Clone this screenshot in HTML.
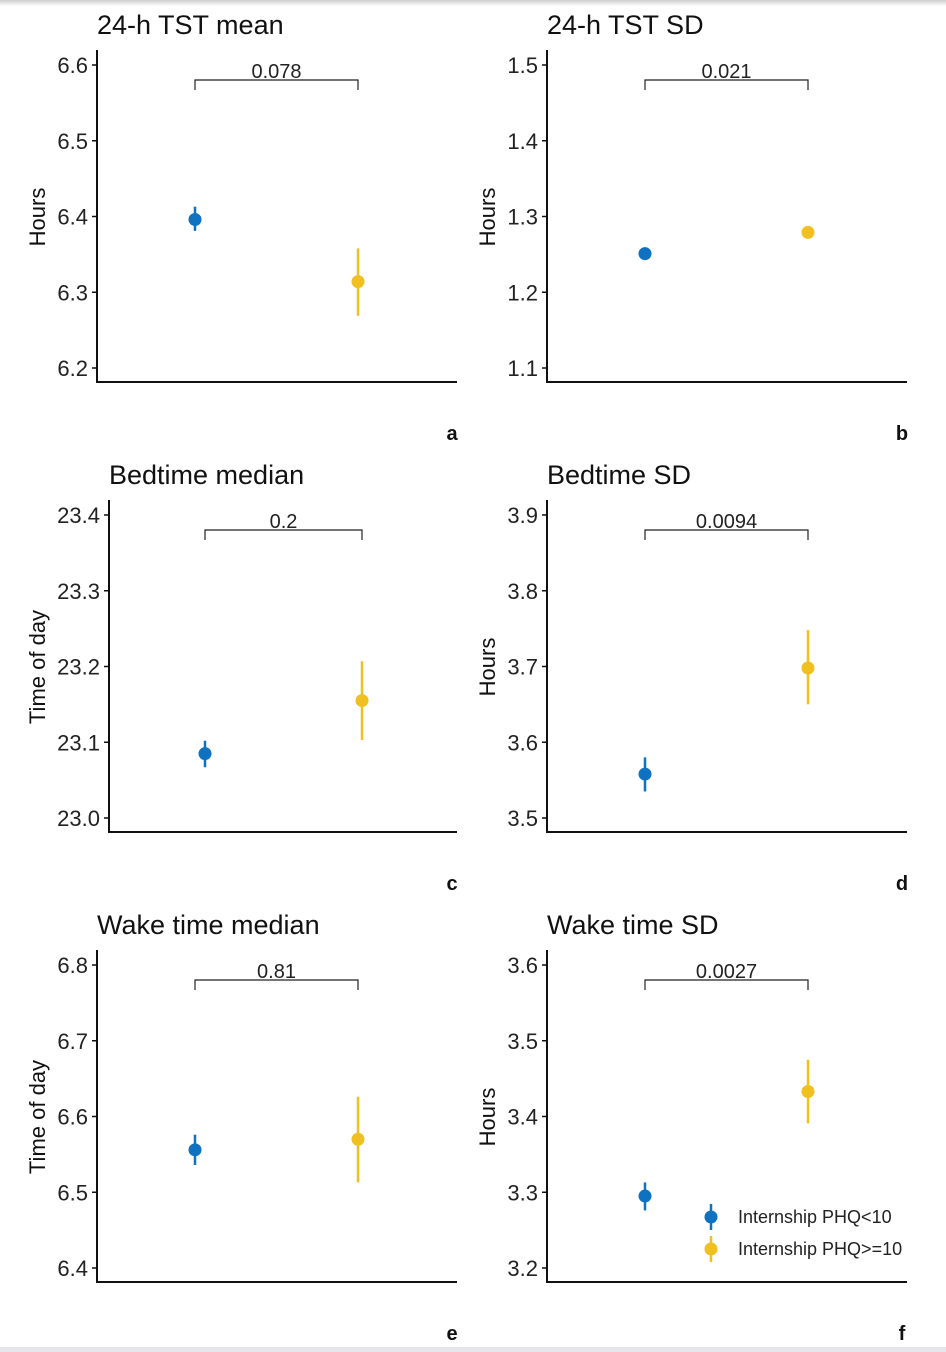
<!DOCTYPE html>
<html><head><meta charset="utf-8"><style>
body{margin:0;background:#fff;}
svg{display:block;font-family:"Liberation Sans",Arial,sans-serif;}
</style></head><body>
<svg id="fig" width="946" height="1352" viewBox="0 0 946 1352">
<defs><linearGradient id="sh" x1="0" y1="0" x2="0" y2="1"><stop offset="0" stop-color="#ccc"/><stop offset="1" stop-color="#fff"/></linearGradient></defs>
<rect x="0" y="0" width="946" height="6" fill="url(#sh)"/>
<rect x="0" y="1347" width="946" height="5" fill="#e6e6ea"/>
</svg>
<script>
const titles=["24-h TST mean","24-h TST SD","Bedtime median","Bedtime SD","Wake time median","Wake time SD"];
const letters=["a","b","c","d","e","f"];
const yTitles=["Hours","Hours","Time of day","Hours","Time of day","Hours"];
const pvals=["0.078","0.021","0.2","0.0094","0.81","0.0027"];
const tickLabels=[["6.2","6.3","6.4","6.5","6.6"],["1.1","1.2","1.3","1.4","1.5"],["23.0","23.1","23.2","23.3","23.4"],["3.5","3.6","3.7","3.8","3.9"],["6.4","6.5","6.6","6.7","6.8"],["3.2","3.3","3.4","3.5","3.6"]];
const blueMean=[6.396,1.251,23.085,3.558,6.556,3.295];
const blueLo=[6.381,1.248,23.067,3.535,6.536,3.276];
const blueHi=[6.413,1.254,23.102,3.580,6.576,3.313];
const yelMean=[6.314,1.279,23.155,3.698,6.570,3.433];
const yelLo=[6.269,1.271,23.103,3.650,6.513,3.391];
const yelHi=[6.358,1.287,23.207,3.748,6.626,3.475];
const seriesNames=["Internship PHQ<10","Internship PHQ>=10"];

const NS="http://www.w3.org/2000/svg";
const svg=document.getElementById('fig');
function mk(tag,attrs,parent,text){const e=document.createElementNS(NS,tag);for(const k in attrs)e.setAttribute(k,attrs[k]);if(text!==undefined)e.textContent=text;(parent||svg).appendChild(e);return e;}
const BLUE="#0f72c0",YEL="#f0c020";
for(let i=0;i<6;i++){
  const col=i%2,row=Math.floor(i/2),oy=row*450;
  const ax = col===0 ? (i===2?109:97) : 547;
  const right = col===0?457:907;
  const xb = col===0 ? (i===2?205:195) : 645;
  const xy = col===0 ? (i===2?362:358) : 808;
  const t0=parseFloat(tickLabels[i][0]),t4=parseFloat(tickLabels[i][4]);
  const yTop=oy+65,yBot=oy+368;
  const ys=v=>yBot-(v-t0)/(t4-t0)*(yBot-yTop);
  const g=mk('g',{});
  
  
  const tt=mk('text',{x:ax,y:oy+34,'font-size':27,fill:'#111'},g,titles[i]);
  
  
  const axl=mk('path',{d:`M${ax},${oy+50}V${oy+382}H${right}`,fill:'none',stroke:'#111','stroke-width':2},g);
  
  
  tickLabels[i].forEach(l=>{
    const y=ys(parseFloat(l));
    mk('line',{x1:ax-5,x2:ax,y1:y,y2:y,stroke:'#111','stroke-width':1.5},g);
    const tl=mk('text',{x:ax-9,y:y+8,'font-size':22,'text-anchor':'end',fill:'#222'},g,l);
    
    
  });
  const ytx=col===0?45:495, ymid=oy+217;
  const yt=mk('text',{x:ytx,y:ymid,'font-size':22,'text-anchor':'middle',fill:'#111',transform:`rotate(-90 ${ytx} ${ymid})`},g,yTitles[i]);
  
  
  const br=mk('path',{d:`M${xb},${oy+90}V${oy+80}H${xy}V${oy+90}`,fill:'none',stroke:'#222','stroke-width':1.2},g);
  
  
  const pt=mk('text',{x:(xb+xy)/2,y:oy+78,'font-size':20,'text-anchor':'middle',fill:'#222'},g,pvals[i]);
  
  
  [[xb,blueMean,blueLo,blueHi,BLUE,'blue'],[xy,yelMean,yelLo,yelHi,YEL,'yellow']].forEach(s=>{
    const eb=mk('line',{x1:s[0],x2:s[0],y1:ys(s[2][i]),y2:ys(s[3][i]),stroke:s[4],'stroke-width':2.5},g);
    
    
    const c=mk('circle',{cx:s[0],cy:ys(s[1][i]),r:6.5,fill:s[4]},g);
    
    
  });
  const lt=mk('text',{x:col===0?452:902,y:oy+440,'font-size':20,'font-weight':'bold','text-anchor':'middle',fill:'#111'},g,letters[i]);
  
  
}
const lg=mk('g',{});


[[BLUE,1217],[YEL,1249]].forEach((d,k)=>{
  mk('line',{x1:711,x2:711,y1:d[1]-13,y2:d[1]+13,stroke:d[0],'stroke-width':2.5},lg);
  const c=mk('circle',{cx:711,cy:d[1],r:6.5,fill:d[0]},lg);
  
  
  const t=mk('text',{x:738,y:d[1]+6,'font-size':18,fill:'#222'},lg,seriesNames[k]);
  
  
});
</script>
</body></html>
